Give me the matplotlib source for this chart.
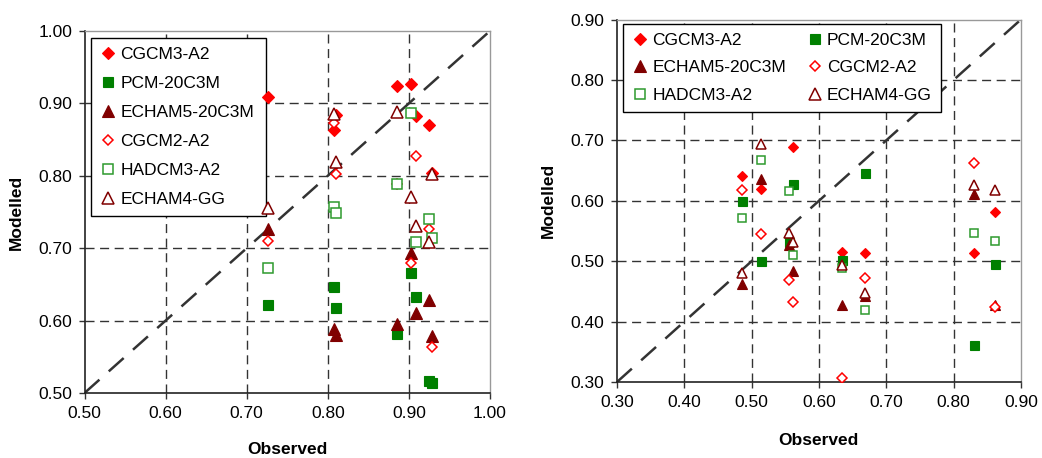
import numpy as np
import matplotlib
matplotlib.use("Agg")
import matplotlib.pyplot as plt
from matplotlib.lines import Line2D

plt.rcParams['font.family'] = ['Liberation Sans', 'DejaVu Sans']

series = ["CGCM3-A2", "PCM-20C3M", "ECHAM5-20C3M", "CGCM2-A2", "HADCM3-A2", "ECHAM4-GG"]
nan = np.nan

# ---- Left chart ----
obs_left = [0.726, 0.808, 0.810, 0.885, 0.903, 0.909, 0.925, 0.928]
mod_left = {
    "CGCM3-A2":     [0.909, 0.863, 0.884, 0.924, 0.927, 0.882, 0.870, 0.804],
    "PCM-20C3M":    [0.622, 0.647, 0.618, 0.581, 0.666, 0.632, 0.516, 0.514],
    "ECHAM5-20C3M": [0.727, 0.588, 0.580, 0.595, 0.693, 0.610, 0.628, 0.579],
    "CGCM2-A2":     [0.710, 0.873, 0.802, 0.789, 0.679, 0.828, 0.726, 0.564],
    "HADCM3-A2":    [0.673, 0.757, 0.748, 0.789, 0.887, 0.708, 0.741, 0.714],
    "ECHAM4-GG":    [0.755, 0.885, 0.819, 0.888, 0.771, 0.730, 0.709, 0.802],
}
ticks_left = [0.50, 0.60, 0.70, 0.80, 0.90, 1.00]

# ---- Right chart ----
obs_right = [0.485, 0.514, 0.555, 0.562, 0.634, 0.668, 0.831, 0.862]
mod_right = {
    "CGCM3-A2":     [0.641, 0.619, nan, 0.689, 0.515, 0.514, 0.513, 0.581],
    "PCM-20C3M":    [0.600, 0.501, 0.532, 0.628, 0.502, 0.646, 0.362, 0.495],
    "ECHAM5-20C3M": [0.462, 0.636, 0.527, 0.483, 0.427, 0.443, 0.611, 0.427],
    "CGCM2-A2":     [0.617, 0.545, 0.469, 0.432, 0.307, 0.472, 0.663, 0.424],
    "HADCM3-A2":    [0.571, 0.667, 0.616, 0.510, 0.488, 0.419, 0.546, 0.534],
    "ECHAM4-GG":    [0.480, 0.694, 0.546, 0.532, 0.494, 0.448, 0.626, 0.618],
}
ticks_right = [0.30, 0.40, 0.50, 0.60, 0.70, 0.80, 0.90]

styles = {
    "CGCM3-A2":     dict(marker="D", mfc="#FF0000", mec="#FF0000", ms=5.9, mew=0.8),
    "PCM-20C3M":    dict(marker="s", mfc="#008000", mec="#008000", ms=7.2, mew=0.8),
    "ECHAM5-20C3M": dict(marker="^", mfc="#800000", mec="#800000", ms=8.0, mew=0.8),
    "CGCM2-A2":     dict(marker="D", mfc="white", mec="#FF0000", ms=5.4, mew=1.1),
    "HADCM3-A2":    dict(marker="s", mfc="white", mec="#2E9A2E", ms=7.0, mew=1.1),
    "ECHAM4-GG":    dict(marker="^", mfc="white", mec="#800000", ms=8.0, mew=1.1),
}

fig = plt.figure(figsize=(10.42, 4.58), dpi=100)
axL = fig.add_axes([0.0811, 0.1419, 0.3891, 0.7904])
axR = fig.add_axes([0.5921, 0.1659, 0.3877, 0.7915])


def setup(ax, ticks, obs, mod, scale, legend_order, legend_kw):
    lo, hi = ticks[0], ticks[-1]
    ax.set_xlim(lo, hi)
    ax.set_ylim(lo, hi)
    ax.set_xticks(ticks)
    ax.set_yticks(ticks)
    ax.set_xticklabels([f"{t:.2f}" for t in ticks], fontsize=12.5)
    ax.set_yticklabels([f"{t:.2f}" for t in ticks], fontsize=12.5)
    ax.tick_params(direction="out", length=4, width=1, color="#333333", pad=5)
    for t in ticks[1:-1]:
        ax.axvline(t, color="#333333", lw=1.0, ls=(0, (6.5, 4)), zorder=1)
        ax.axhline(t, color="#333333", lw=1.0, ls=(0, (6.5, 4)), zorder=1)
    ax.plot([lo, hi], [lo, hi], color="#333333", lw=1.8, ls=(0, (8, 5)), zorder=2)
    for s in series:
        st = dict(styles[s])
        st["ms"] = st["ms"] * scale
        ax.plot(obs, mod[s], ls="none", zorder=4, **st)
    for side in ["top", "right"]:
        ax.spines[side].set_color("#999999")
        ax.spines[side].set_linewidth(1.0)
    for side in ["left", "bottom"]:
        ax.spines[side].set_color("#222222")
        ax.spines[side].set_linewidth(1.2)
    handles = [Line2D([], [], ls="none", **styles[s]) for s in legend_order]
    leg = ax.legend(handles, legend_order, frameon=True, fancybox=False, framealpha=1,
                    edgecolor="black", prop={"size": 12.5}, borderaxespad=0,
                    handletextpad=0.2, handlelength=1.0, borderpad=0.5, **legend_kw)
    leg.get_frame().set_linewidth(1.0)
    leg.set_zorder(3)
    ax.set_xlabel("Observed", fontsize=12.5, fontweight="bold")
    ax.set_ylabel("Modelled", fontsize=12.5, fontweight="bold")


setup(axL, ticks_left, obs_left, mod_left, 1.0, series,
      dict(loc="upper left", bbox_to_anchor=(0.016, 0.4834, 0.4316, 0.4973),
           mode="expand", ncol=1, labelspacing=0.8))
axL.xaxis.set_label_coords(0.4994, -0.135)
axL.yaxis.set_label_coords(-0.149, 0.5)

right_order = [series[0], series[2], series[4], series[1], series[3], series[5]]
setup(axR, ticks_right, obs_right, mod_right, 0.9, right_order,
      dict(loc="upper left", bbox_to_anchor=(0.015, 0.9876), ncol=2, labelspacing=0.72,
           columnspacing=1.15))
axR.xaxis.set_label_coords(0.4975, -0.141)
axR.yaxis.set_label_coords(-0.151, 0.5)

fig.savefig("out.png", dpi=100)
